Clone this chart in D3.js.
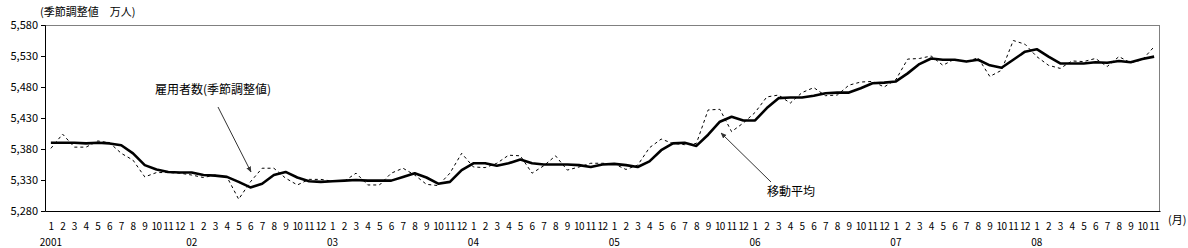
<!DOCTYPE html>
<html>
<head>
<meta charset="utf-8">
<script src="https://cdn.jsdelivr.net/npm/d3@7"></script>
<style>
  body { margin: 0; background: #fff; }
  text { font-family: "Noto Sans CJK JP", "DejaVu Sans", sans-serif; fill: #000; }
</style>
</head>
<body>
<div id="chart"></div>
<script>
// months 2001-01 .. 2008-11
const years = ["2001", "02", "03", "04", "05", "06", "07", "08"];
const yTicks = [5280, 5330, 5380, 5430, 5480, 5530, 5580];

// 雇用者数（季節調整値）
const seasonal = [
  5381, 5404, 5383, 5383, 5393, 5390, 5373, 5362, 5335, 5342, 5342, 5341,
  5338, 5334, 5338, 5335, 5299, 5327, 5349, 5349, 5333, 5322, 5331, 5331,
  5328, 5328, 5341, 5322, 5322, 5341, 5349, 5338, 5323, 5321, 5341, 5373,
  5351, 5350, 5357, 5370, 5369, 5341, 5353, 5369, 5346, 5351, 5357, 5357,
  5356, 5347, 5354, 5382, 5396, 5389, 5387, 5389, 5443, 5444, 5408, 5422,
  5439, 5464, 5467, 5454, 5471, 5479, 5466, 5467, 5483, 5488, 5489, 5480,
  5492, 5525, 5526, 5530, 5515, 5525, 5521, 5527, 5497, 5507, 5555, 5549,
  5529, 5515, 5510, 5522, 5521, 5526, 5513, 5529, 5519, 5524, 5545
];

// 移動平均
const movingAvg = [
  5390, 5390, 5390, 5389, 5390, 5389, 5386, 5373, 5354, 5347, 5343, 5342,
  5342, 5338, 5337, 5335, 5327, 5318, 5324, 5338, 5343, 5334, 5328, 5327,
  5328, 5329, 5330, 5329, 5329, 5329, 5335, 5341, 5334, 5324, 5327, 5346,
  5357, 5357, 5353, 5357, 5363, 5357, 5355, 5355, 5355, 5354, 5351, 5355,
  5356, 5354, 5351, 5360, 5378, 5389, 5390, 5385, 5403, 5424, 5432, 5426,
  5426, 5446, 5462, 5463, 5463, 5466, 5470, 5471, 5471, 5478, 5486, 5487,
  5489, 5502, 5517, 5526, 5524, 5524, 5521, 5524, 5515, 5511, 5524, 5537,
  5541, 5529, 5518, 5518, 5518, 5520, 5519, 5522, 5520, 5525, 5529
];

const months = seasonal.map((d, i) => ({ idx: i, m: (i % 12) + 1, y: Math.floor(i / 12) }));

const width = 1188, height = 248;
const margin = { top: 25, right: 28, bottom: 37, left: 45 };
const innerW = width - margin.left - margin.right;
const innerH = height - margin.top - margin.bottom;

const svg = d3.select("#chart").append("svg")
  .attr("width", width).attr("height", height);

const g = svg.append("g")
  .attr("transform", `translate(${margin.left},${margin.top})`);

const x = d3.scaleBand()
  .domain(months.map(d => d.idx))
  .range([0, innerW]);

const y = d3.scaleLinear()
  .domain([5280, 5580])
  .range([innerH, 0]);

const cx = i => x(i) + x.bandwidth() / 2;

// frame: top/right gray, left/bottom black
g.append("line").attr("x1", 0).attr("x2", innerW).attr("y1", 0.5).attr("y2", 0.5)
  .attr("stroke", "#808080");
g.append("line").attr("x1", innerW - 0.5).attr("x2", innerW - 0.5).attr("y1", 0).attr("y2", innerH)
  .attr("stroke", "#808080");

// y axis
const yAxis = g.append("g")
  .call(d3.axisLeft(y).tickValues(yTicks).tickSize(4).tickPadding(3)
    .tickFormat(d3.format(",")));
yAxis.select(".domain").attr("stroke", "#000");
yAxis.selectAll("text").style("font-size", "11px").attr("fill", "#000");

// x axis (bottom line + month labels)
const xAxis = g.append("g")
  .attr("transform", `translate(0,${innerH})`)
  .call(d3.axisBottom(x).tickSize(0).tickPadding(12)
    .tickFormat(i => months[i].m));
xAxis.select(".domain").attr("stroke", "#000").attr("stroke-width", 1.2);
xAxis.selectAll("text").style("font-size", "10px").attr("letter-spacing", "-0.6px");

// year labels under each January
g.append("g").selectAll("text")
  .data(months.filter(d => d.m === 1))
  .join("text")
  .attr("x", d => cx(d.idx))
  .attr("y", innerH + 35)
  .attr("text-anchor", "middle")
  .style("font-size", "10px")
  .text(d => years[d.y]);

// unit labels
svg.append("text")
  .attr("x", 40).attr("y", 16)
  .style("font-size", "11px")
  .text("(季節調整値　万人)");

svg.append("text")
  .attr("x", width - 20).attr("y", 224)
  .style("font-size", "11px")
  .text("(月)");

// lines
const line = d3.line()
  .x((d, i) => cx(i))
  .y(d => y(d));

g.append("path")
  .datum(seasonal)
  .attr("fill", "none")
  .attr("stroke", "#000")
  .attr("stroke-width", 1)
  .attr("stroke-dasharray", "3,3")
  .attr("d", line);

g.append("path")
  .datum(movingAvg)
  .attr("fill", "none")
  .attr("stroke", "#000")
  .attr("stroke-width", 2.6)
  .attr("stroke-linejoin", "round")
  .attr("d", line);

// annotations
const defs = svg.append("defs");
defs.append("marker")
  .attr("id", "arrow")
  .attr("viewBox", "0 0 10 10")
  .attr("refX", 9).attr("refY", 5)
  .attr("markerWidth", 6).attr("markerHeight", 6)
  .attr("orient", "auto")
  .append("path")
  .attr("d", "M0,1 L10,5 L0,9 Z")
  .attr("fill", "#333");

svg.append("text")
  .attr("x", 155).attr("y", 94)
  .style("font-size", "12px")
  .text("雇用者数(季節調整値)");

svg.append("line")
  .attr("x1", 218).attr("y1", 107)
  .attr("x2", 251).attr("y2", 172)
  .attr("stroke", "#333").attr("stroke-width", 1)
  .attr("marker-end", "url(#arrow)");

svg.append("text")
  .attr("x", 767).attr("y", 196)
  .style("font-size", "12px")
  .text("移動平均");

svg.append("line")
  .attr("x1", 771).attr("y1", 182)
  .attr("x2", 721).attr("y2", 133)
  .attr("stroke", "#333").attr("stroke-width", 1)
  .attr("marker-end", "url(#arrow)");
</script>
</body>
</html>
